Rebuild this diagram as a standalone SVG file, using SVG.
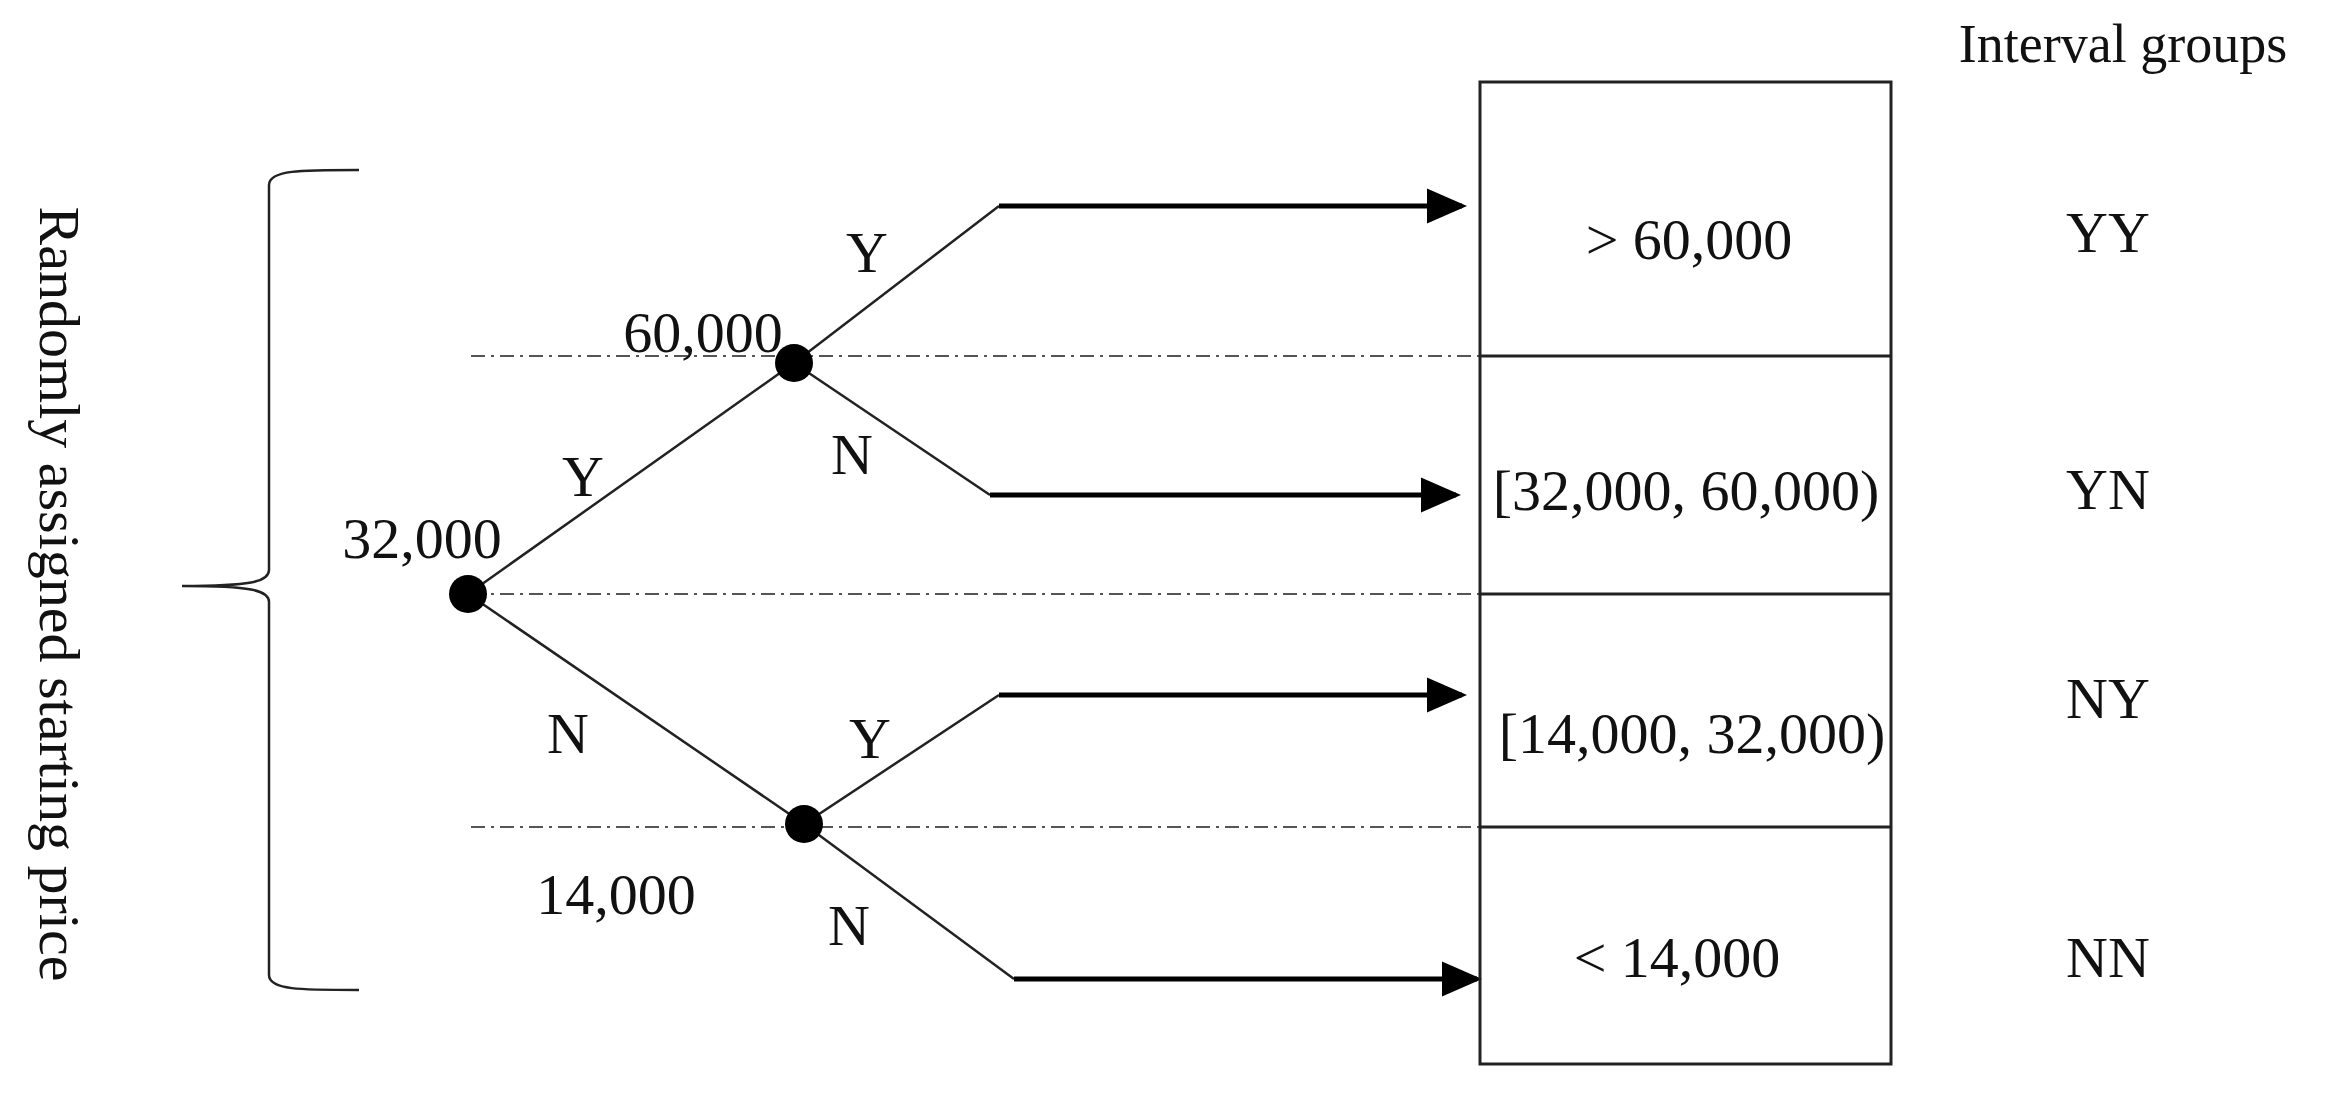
<svg xmlns="http://www.w3.org/2000/svg" width="2344" height="1108" viewBox="0 0 2344 1108">
<style>
text{font-family:"Liberation Serif","Times New Roman",serif;font-size:58px;fill:#111;text-anchor:middle}
.br{fill:none;stroke:#222;stroke-width:2.5}
.dd{stroke:#555;stroke-width:2;stroke-dasharray:14 6 3 6}
.box{fill:none;stroke:#222;stroke-width:3}
.arr{fill:none;stroke:#000;stroke-width:5}
</style>
<defs><marker id="ah" markerWidth="8" markerHeight="8" refX="7" refY="4" orient="auto" markerUnits="strokeWidth"><path d="M0,0.5 L8,4 L0,7.5z" fill="#000"/></marker></defs>
<rect width="2344" height="1108" fill="#fff"/>
<g id="brace">
<path class="br" d="M359,170 C300,170 269,170 269,185 L269,570 C269,582 250,586 182,586 C250,586 269,590 269,602 L269,975 C269,990 300,990 359,990"/>
<text transform="translate(60,594) rotate(90)" dy="20">Randomly assigned starting price</text>
</g>
<g id="guides">
<line class="dd" x1="471" y1="356" x2="1480" y2="356"/>
<line class="dd" x1="471" y1="594" x2="1480" y2="594"/>
<line class="dd" x1="471" y1="827" x2="1480" y2="827"/>
</g>
<g id="connectors">
<polyline fill="none" stroke="#222" stroke-width="2.5" points="468,594 794,363 999,206"/>
<polyline fill="none" stroke="#222" stroke-width="2.5" points="794,363 990,495"/>
<polyline fill="none" stroke="#222" stroke-width="2.5" points="468,594 804,824 999,695"/>
<polyline fill="none" stroke="#222" stroke-width="2.5" points="804,824 1014,979"/>
<line class="arr" x1="999" y1="206" x2="1462" y2="206" marker-end="url(#ah)"/>
<line class="arr" x1="990" y1="495" x2="1456" y2="495" marker-end="url(#ah)"/>
<line class="arr" x1="999" y1="695" x2="1462" y2="695" marker-end="url(#ah)"/>
<line class="arr" x1="1014" y1="979" x2="1477" y2="979" marker-end="url(#ah)"/>
<text x="867" y="272">Y</text><text x="852" y="474">N</text>
<text x="583" y="496">Y</text><text x="568" y="753">N</text>
<text x="870" y="758">Y</text><text x="849" y="945">N</text>
</g>
<g id="n32000"><circle cx="468" cy="594" r="19" fill="#000"/><text x="422" y="558">32,000</text></g>
<g id="n60000"><circle cx="794" cy="363" r="19" fill="#000"/><text x="703" y="352">60,000</text></g>
<g id="n14000"><circle cx="804" cy="824" r="19" fill="#000"/><text x="616" y="914">14,000</text></g>
<g id="box">
<rect class="box" x="1480" y="82" width="411" height="982"/>
<line class="box" x1="1480" y1="356" x2="1891" y2="356"/>
<line class="box" x1="1480" y1="594" x2="1891" y2="594"/>
<line class="box" x1="1480" y1="827" x2="1891" y2="827"/>
<text x="1689" y="259">&gt; 60,000</text>
<text x="1686" y="510">[32,000, 60,000)</text>
<text x="1692" y="753">[14,000, 32,000)</text>
<text x="1677" y="977">&lt; 14,000</text>
</g>
<g id="groups">
<text x="2123" y="62" style="font-size:54px">Interval groups</text>
<text x="2108" y="252">YY</text><text x="2108" y="509">YN</text>
<text x="2108" y="718">NY</text><text x="2108" y="977">NN</text>
</g>
</svg>
